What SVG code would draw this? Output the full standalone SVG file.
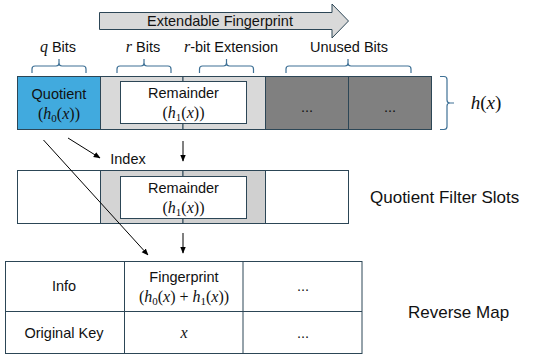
<svg xmlns="http://www.w3.org/2000/svg" width="546" height="355" viewBox="0 0 546 355">
  <style>
    .t { font-family: "Liberation Sans", Arial, sans-serif; font-size: 14.5px; fill: #111; text-anchor: middle; }
    .lbl { font-family: "Liberation Sans", Arial, sans-serif; font-size: 17px; fill: #111; }
    .m { font-family: "Liberation Serif", "Times New Roman", serif; font-size: 16px; fill: #111; text-anchor: middle; }
    .mi { font-style: italic; }
    .sub { font-size: 11px; }
    .cell { stroke: #2c4656; stroke-width: 1; }
    .brace { fill: none; stroke: #3f7196; stroke-width: 1.2; }
    .conn { stroke: #000; stroke-width: 1; fill: none; }
  </style>
  <defs>
    <marker id="ah" viewBox="0 0 10 10" refX="9" refY="5" markerWidth="7" markerHeight="7" orient="auto" markerUnits="userSpaceOnUse">
      <path d="M0,1 L10,5 L0,9 z" fill="#000"/>
    </marker>
  </defs>

  <!-- extendable fingerprint arrow -->
  <g id="extendable-arrow">
    <path d="M99.5,12.5 H332 V4 L348.5,21 L332,38 V29.5 H99.5 Z" fill="#d9d9d9" stroke="#2c4656" stroke-width="1"/>
    <text class="t" x="220" y="26">Extendable Fingerprint</text>
  </g>

  <!-- bit-range labels and braces -->
  <g id="bit-labels">
    <text class="t" x="58" y="52"><tspan class="m mi">q</tspan> Bits</text>
    <text class="t" x="143" y="52"><tspan class="m mi">r</tspan> Bits</text>
    <text class="t" x="231" y="52"><tspan class="m mi">r</tspan>-bit Extension</text>
    <text class="t" x="349" y="52">Unused Bits</text>
    <path class="brace" d="M32,73 V69 Q32,66 35,66 H56 Q59,66 59,63 V59 M59,63 Q59,66 62,66 H83 Q86,66 86,69 V73"/>
    <path class="brace" d="M117,73 V69 Q117,66 120,66 H141 Q144,66 144,63 V59 M144,63 Q144,66 147,66 H168 Q171,66 171,69 V73"/>
    <path class="brace" d="M199.5,73 V69 Q199.5,66 202.5,66 H223.5 Q226.5,66 226.5,63 V59 M226.5,63 Q226.5,66 229.5,66 H250.5 Q253.5,66 253.5,69 V73"/>
    <path class="brace" d="M286,73 V69 Q286,66 289,66 H345 Q348,66 348,63 V59 M348,63 Q348,66 351,66 H408 Q411,66 411,69 V73"/>
  </g>

  <!-- hash value row h(x) -->
  <g id="hash-row">
    <rect class="cell" x="17.5" y="76.5" width="83" height="53" fill="#41aade"/>
    <rect class="cell" x="100.5" y="76.5" width="82.5" height="53" fill="#d9d9d9"/>
    <rect class="cell" x="183" y="76.5" width="82.5" height="53" fill="#d9d9d9"/>
    <rect class="cell" x="265.5" y="76.5" width="83" height="53" fill="#808080"/>
    <rect class="cell" x="348.5" y="76.5" width="83" height="53" fill="#808080"/>
    <rect class="cell" x="120.5" y="81.5" width="126" height="42" fill="#fff"/>
    <text class="t" x="59" y="99">Quotient</text>
    <text class="m" x="59" y="119">(<tspan class="mi">h</tspan><tspan class="sub" dy="3">0</tspan><tspan dy="-3">(</tspan><tspan class="mi">x</tspan>))</text>
    <text class="t" x="183.5" y="97.5">Remainder</text>
    <text class="m" x="183.5" y="118">(<tspan class="mi">h</tspan><tspan class="sub" dy="3">1</tspan><tspan dy="-3">(</tspan><tspan class="mi">x</tspan>))</text>
    <text class="t" x="307" y="112">...</text>
    <text class="t" x="390" y="112">...</text>
    <path class="brace" d="M440,76.5 H444 Q447,76.5 447,79.5 V100 Q447,103 450,103 H454 M450,103 Q447,103 447,106 V126.5 Q447,129.5 444,129.5 H440"/>
    <text class="m" x="486" y="109" style="font-size:19px"><tspan class="mi">h</tspan>(<tspan class="mi">x</tspan>)</text>
  </g>

  <!-- quotient filter slots row -->
  <g id="qf-slots">
    <rect class="cell" x="17.5" y="170.5" width="83" height="53" fill="#fff"/>
    <rect class="cell" x="100.5" y="170.5" width="82.5" height="53" fill="#d4d4d4"/>
    <rect class="cell" x="183" y="170.5" width="82.5" height="53" fill="#d0d0d0"/>
    <rect class="cell" x="265.5" y="170.5" width="83" height="53" fill="#fff"/>
    <rect class="cell" x="120.5" y="176.5" width="126" height="42" fill="#fff"/>
    <text class="t" x="183.5" y="192.5">Remainder</text>
    <text class="m" x="183.5" y="213">(<tspan class="mi">h</tspan><tspan class="sub" dy="3">1</tspan><tspan dy="-3">(</tspan><tspan class="mi">x</tspan>))</text>
    <text class="lbl" x="370" y="203">Quotient Filter Slots</text>
  </g>

  <!-- reverse map table -->
  <g id="reverse-map">
    <rect class="cell" x="5.5" y="261.5" width="356.5" height="92" fill="#fff"/>
    <line class="cell" x1="5.5" y1="311.5" x2="362" y2="311.5"/>
    <line class="cell" x1="124.5" y1="261.5" x2="124.5" y2="353.5"/>
    <line class="cell" x1="243" y1="261.5" x2="243" y2="353.5"/>
    <text class="t" x="64" y="291">Info</text>
    <text class="t" x="184" y="282">Fingerprint</text>
    <text class="m" x="184" y="302">(<tspan class="mi">h</tspan><tspan class="sub" dy="3">0</tspan><tspan dy="-3">(</tspan><tspan class="mi">x</tspan>) + <tspan class="mi">h</tspan><tspan class="sub" dy="3">1</tspan><tspan dy="-3">(</tspan><tspan class="mi">x</tspan>))</text>
    <text class="t" x="303" y="291">...</text>
    <text class="t" x="64" y="338">Original Key</text>
    <text class="m mi" x="184" y="338">x</text>
    <text class="t" x="303" y="338">...</text>
    <text class="lbl" x="408" y="318">Reverse Map</text>
  </g>

  <!-- connectors -->
  <g id="connectors">
    <line class="conn" x1="68" y1="138" x2="100" y2="158" marker-end="url(#ah)"/>
    <text class="t" x="128" y="164">Index</text>
    <line class="conn" x1="43.5" y1="140" x2="148" y2="255" marker-end="url(#ah)"/>
    <line class="conn" x1="183" y1="141" x2="183" y2="161" marker-end="url(#ah)"/>
    <line class="conn" x1="183" y1="233" x2="183" y2="253" marker-end="url(#ah)"/>
  </g>
</svg>
